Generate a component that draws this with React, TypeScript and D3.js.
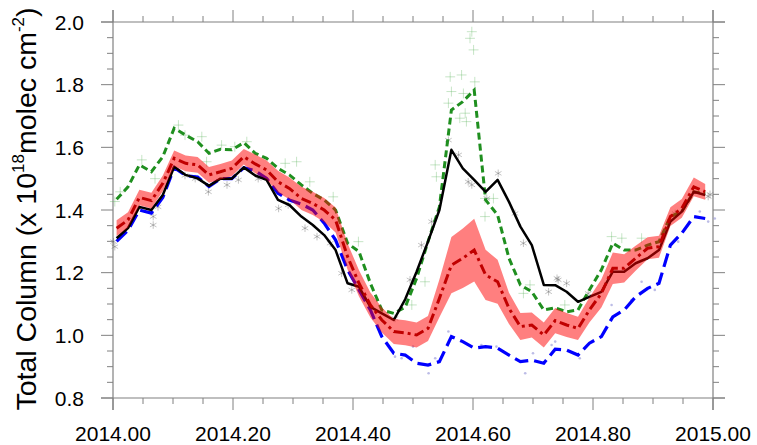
import React, { useEffect, useRef } from "react"
import * as d3 from "d3"

// weekly time axis (decimal year)
const weeks = [
  2014.006, 2014.025, 2014.044, 2014.064, 2014.083, 2014.102, 2014.121, 2014.141,
  2014.160, 2014.179, 2014.198, 2014.218, 2014.237, 2014.256, 2014.275, 2014.294,
  2014.314, 2014.333, 2014.352, 2014.371, 2014.391, 2014.410, 2014.429, 2014.448,
  2014.468, 2014.487, 2014.506, 2014.525, 2014.544, 2014.564, 2014.583, 2014.602,
  2014.621, 2014.641, 2014.660, 2014.679, 2014.698, 2014.718, 2014.737, 2014.756,
  2014.775, 2014.794, 2014.814, 2014.833, 2014.852, 2014.871, 2014.891, 2014.910,
  2014.929, 2014.948, 2014.968, 2014.987,
]

// black solid
const blackLine = [
  1.31, 1.342, 1.41, 1.40, 1.448, 1.538, 1.512, 1.501, 1.477, 1.50, 1.50, 1.536,
  1.51, 1.496, 1.432, 1.416, 1.379, 1.352, 1.32, 1.272, 1.166, 1.155, 1.091, 1.07,
  1.049, 1.115, 1.203, 1.299, 1.40, 1.592, 1.533, 1.496, 1.458, 1.496, 1.426, 1.347,
  1.288, 1.161, 1.16, 1.139, 1.107, 1.123, 1.139, 1.203, 1.203, 1.23, 1.246, 1.272,
  1.363, 1.395, 1.458, 1.448,
]

// green short dash
const greenLine = [
  1.434, 1.474, 1.544, 1.522, 1.57, 1.661, 1.639, 1.618, 1.581, 1.594, 1.592, 1.615,
  1.581, 1.565, 1.533, 1.512, 1.48, 1.453, 1.432, 1.40, 1.294, 1.267, 1.166, 1.081,
  1.07, 1.09, 1.182, 1.299, 1.41, 1.719, 1.746, 1.783, 1.432, 1.384, 1.246, 1.161,
  1.139, 1.081, 1.088, 1.075, 1.081, 1.145, 1.209, 1.294, 1.272, 1.272, 1.288, 1.299,
  1.379, 1.395, 1.458, 1.453,
]

// red dash-dot (ensemble mean) and its half-spread
const redLine = [
  1.342, 1.368, 1.44, 1.43, 1.485, 1.565, 1.549, 1.544, 1.512, 1.522, 1.533, 1.57,
  1.547, 1.528, 1.49, 1.469, 1.437, 1.421, 1.40, 1.368, 1.251, 1.166, 1.097, 1.049,
  1.012, 1.008, 1.001, 1.022, 1.118, 1.224, 1.246, 1.272, 1.193, 1.171, 1.086, 1.028,
  1.033, 1.001, 1.047, 1.033, 1.022, 1.081, 1.134, 1.214, 1.214, 1.246, 1.278, 1.283,
  1.379, 1.405, 1.474, 1.458,
]
const redSpread = [
  0.025, 0.025, 0.025, 0.025, 0.025, 0.025, 0.025, 0.025, 0.025, 0.025, 0.025, 0.025,
  0.03, 0.03, 0.035, 0.035, 0.037, 0.037, 0.038, 0.04, 0.042, 0.042, 0.04, 0.04,
  0.04, 0.04, 0.04, 0.04, 0.06, 0.09, 0.095, 0.1, 0.08, 0.07, 0.05, 0.043,
  0.04, 0.04, 0.04, 0.038, 0.037, 0.04, 0.045, 0.05, 0.045, 0.04, 0.035, 0.035,
  0.03, 0.03, 0.03, 0.025,
]

// blue long dash
const blueLine = [
  1.30, 1.335, 1.40, 1.39, 1.44, 1.535, 1.51, 1.505, 1.475, 1.50, 1.50, 1.535,
  1.525, 1.501, 1.453, 1.432, 1.419, 1.40, 1.358, 1.304, 1.209, 1.145, 1.081, 0.996,
  0.943, 0.937, 0.911, 0.905, 0.916, 0.996, 0.98, 0.959, 0.964, 0.959, 0.937, 0.916,
  0.921, 0.911, 0.956, 0.953, 0.937, 0.975, 0.996, 1.059, 1.081, 1.123, 1.15, 1.166,
  1.288, 1.326, 1.379, 1.373,
]

// individual observations [time, value]
const blackObs = [
  [2014.001, 1.299], [2014.003, 1.283], [2014.067, 1.379], [2014.067, 1.352], [2014.075, 1.41],
  [2014.12, 1.51], [2014.137, 1.50], [2014.159, 1.458], [2014.19, 1.48], [2014.209, 1.496],
  [2014.242, 1.50], [2014.276, 1.405], [2014.292, 1.416], [2014.32, 1.342], [2014.34, 1.315],
  [2014.362, 1.294], [2014.381, 1.198], [2014.398, 1.145], [2014.47, 1.054], [2014.495, 1.177],
  [2014.514, 1.288], [2014.531, 1.363], [2014.559, 1.623], [2014.576, 1.576], [2014.592, 1.49],
  [2014.598, 1.48], [2014.623, 1.437], [2014.642, 1.517], [2014.67, 1.389], [2014.684, 1.294],
  [2014.726, 1.139], [2014.74, 1.182], [2014.742, 1.177], [2014.756, 1.166], [2014.792, 1.134],
  [2014.937, 1.389], [2014.992, 1.443], [2014.995, 1.45],
]
const greenObs = [
  [2014.003, 1.427], [2014.012, 1.458], [2014.048, 1.56], [2014.07, 1.50], [2014.109, 1.671],
  [2014.12, 1.639], [2014.148, 1.634], [2014.156, 1.554], [2014.181, 1.607], [2014.203, 1.602],
  [2014.223, 1.618], [2014.287, 1.549], [2014.306, 1.554], [2014.328, 1.49], [2014.367, 1.442],
  [2014.409, 1.299], [2014.498, 1.097], [2014.52, 1.171], [2014.537, 1.544], [2014.539, 1.506],
  [2014.562, 1.825], [2014.581, 1.831], [2014.598, 1.969], [2014.595, 1.948], [2014.601, 1.911],
  [2014.564, 1.778], [2014.584, 1.772], [2014.559, 1.741], [2014.578, 1.693], [2014.589, 1.682],
  [2014.587, 1.709], [2014.603, 1.809], [2014.62, 1.437], [2014.62, 1.379], [2014.634, 1.437],
  [2014.695, 1.161], [2014.684, 1.134], [2014.753, 1.097], [2014.831, 1.315], [2014.848, 1.31],
  [2014.881, 1.31],
]
const blueObs = [
  [2014.47, 0.932], [2014.481, 0.927], [2014.50, 0.964], [2014.526, 0.879], [2014.537, 0.927],
  [2014.559, 1.012], [2014.614, 0.969], [2014.639, 0.964], [2014.687, 0.879], [2014.70, 0.943],
  [2014.731, 0.969], [2014.737, 0.98], [2014.778, 0.927], [2014.831, 1.097], [2014.864, 1.113],
  [2014.881, 1.171], [2014.903, 1.145], [2014.942, 1.299], [2014.978, 1.395], [2014.992, 1.363],
  [2015.003, 1.373],
]

const xTicks = [2014.0, 2014.2, 2014.4, 2014.6, 2014.8, 2015.0]
const xTickLabels = ["2014.00", "2014.20", "2014.40", "2014.60", "2014.80", "2015.00"]
const yTicks = [0.8, 1.0, 1.2, 1.4, 1.6, 1.8, 2.0]
const yTickLabels = ["0.8", "1.0", "1.2", "1.4", "1.6", "1.8", "2.0"]

const W = 757
const H = 445
const FONT = "'Liberation Sans', Arial, Helvetica, sans-serif"

export default function App() {
  const ref = useRef<SVGSVGElement>(null)

  useEffect(() => {
    const svg = d3.select(ref.current)
    svg.selectAll("*").remove()

    const left = 113, right = 713, top = 22, bottom = 398
    const x = d3.scaleLinear().domain([2014, 2015]).range([left, right])
    const y = d3.scaleLinear().domain([0.8, 2.0]).range([bottom, top])

    const axisColor = "#808080"
    const major = 12
    const minor = 6

    // frame, lines extend past the corners like the original
    const frame = svg.append("g").attr("stroke", axisColor).attr("stroke-width", 1.2)
    frame.append("line").attr("x1", left - major).attr("x2", right + major).attr("y1", top).attr("y2", top)
    frame.append("line").attr("x1", left - major).attr("x2", right + major).attr("y1", bottom).attr("y2", bottom)
    frame.append("line").attr("x1", left).attr("x2", left).attr("y1", top - major).attr("y2", bottom + major)
    frame.append("line").attr("x1", right).attr("x2", right).attr("y1", top - major).attr("y2", bottom + major)

    const xMinor = d3.range(0, 21).map(i => 2014 + i * 0.05)
    const yMinor = d3.range(0, 25).map(i => 0.8 + i * 0.05)

    const ticks = svg.append("g").attr("stroke", axisColor).attr("stroke-width", 1)
    xMinor.forEach((t, i) => {
      const len = i % 4 === 0 ? major : minor
      ticks.append("line").attr("x1", x(t)).attr("x2", x(t)).attr("y1", bottom).attr("y2", bottom + len)
      ticks.append("line").attr("x1", x(t)).attr("x2", x(t)).attr("y1", top).attr("y2", top - len)
    })
    yMinor.forEach((v, i) => {
      const len = i % 4 === 0 ? major : minor
      ticks.append("line").attr("y1", y(v)).attr("y2", y(v)).attr("x1", left).attr("x2", left - len)
      ticks.append("line").attr("y1", y(v)).attr("y2", y(v)).attr("x1", right).attr("x2", right + len)
    })

    svg.append("g").selectAll("text")
      .data(xTicks)
      .enter()
      .append("text")
      .attr("x", d => x(d))
      .attr("y", 441)
      .attr("text-anchor", "middle")
      .style("font-family", FONT)
      .style("font-size", "21px")
      .text((d, i) => xTickLabels[i])

    svg.append("g").selectAll("text")
      .data(yTicks)
      .enter()
      .append("text")
      .attr("x", 84)
      .attr("y", d => y(d) + 7.5)
      .attr("text-anchor", "end")
      .style("font-family", FONT)
      .style("font-size", "21px")
      .text((d, i) => yTickLabels[i])

    const title = svg.append("text")
      .attr("transform", "translate(36, 209) rotate(-90)")
      .attr("text-anchor", "middle")
      .style("font-family", FONT)
      .style("font-size", "28.5px")
    title.append("tspan").text("Total Column (x 10")
    title.append("tspan").attr("dy", -12).style("font-size", "17px").text("18")
    title.append("tspan").attr("dy", 12).text("molec cm")
    title.append("tspan").attr("dy", -12).style("font-size", "17px").text("-2")
    title.append("tspan").attr("dy", 12).text(")")

    const plot = svg.append("g")

    // observation markers
    const plus = d3.symbol().type(d3.symbolPlus).size(34)
    const star = d3.symbol().type(d3.symbolAsterisk).size(40)

    plot.selectAll(".gobs")
      .data(greenObs)
      .enter()
      .append("path")
      .attr("transform", d => `translate(${x(d[0])},${y(d[1])})`)
      .attr("d", plus)
      .attr("fill", "none")
      .attr("stroke", "#5fb35f")
      .attr("stroke-opacity", 0.4)
      .attr("stroke-width", 0.9)

    plot.selectAll(".bobs")
      .data(blackObs)
      .enter()
      .append("path")
      .attr("transform", d => `translate(${x(d[0])},${y(d[1])})`)
      .attr("d", star)
      .attr("fill", "none")
      .attr("stroke", "#555")
      .attr("stroke-opacity", 0.4)
      .attr("stroke-width", 0.9)

    plot.selectAll(".uobs")
      .data(blueObs)
      .enter()
      .append("circle")
      .attr("cx", d => x(d[0]))
      .attr("cy", d => y(d[1]))
      .attr("r", 1.3)
      .attr("fill", "#8f8fd6")
      .attr("fill-opacity", 0.6)

    const line = d3.line<number>()
      .x((d, i) => x(weeks[i]))
      .y(d => y(d))

    plot.append("path")
      .datum(blueLine)
      .attr("fill", "none")
      .attr("stroke", "#0000ff")
      .attr("stroke-width", 3.2)
      .attr("stroke-dasharray", "14 6")
      .attr("d", line)

    plot.append("path")
      .datum(greenLine)
      .attr("fill", "none")
      .attr("stroke", "#1f8f1f")
      .attr("stroke-width", 3)
      .attr("stroke-dasharray", "7 4")
      .attr("d", line)

    plot.append("path")
      .datum(blackLine)
      .attr("fill", "none")
      .attr("stroke", "#000")
      .attr("stroke-width", 2.5)
      .attr("stroke-linejoin", "round")
      .attr("d", line)

    const band = d3.area<number>()
      .x((d, i) => x(weeks[i]))
      .y0((d, i) => y(d - redSpread[i]))
      .y1((d, i) => y(d + redSpread[i]))

    plot.append("path")
      .datum(redLine)
      .attr("fill", "#ff0000")
      .attr("fill-opacity", 0.5)
      .attr("d", band)

    plot.append("path")
      .datum(redLine)
      .attr("fill", "none")
      .attr("stroke", "#c00000")
      .attr("stroke-width", 3)
      .attr("stroke-dasharray", "10 4 3 4")
      .attr("d", line)
  }, [])

  return (
    <svg
      ref={ref}
      width={W}
      height={H}
      style={{ position: "absolute", left: 0, top: 0, display: "block", background: "#fff" }}
    />
  )
}
